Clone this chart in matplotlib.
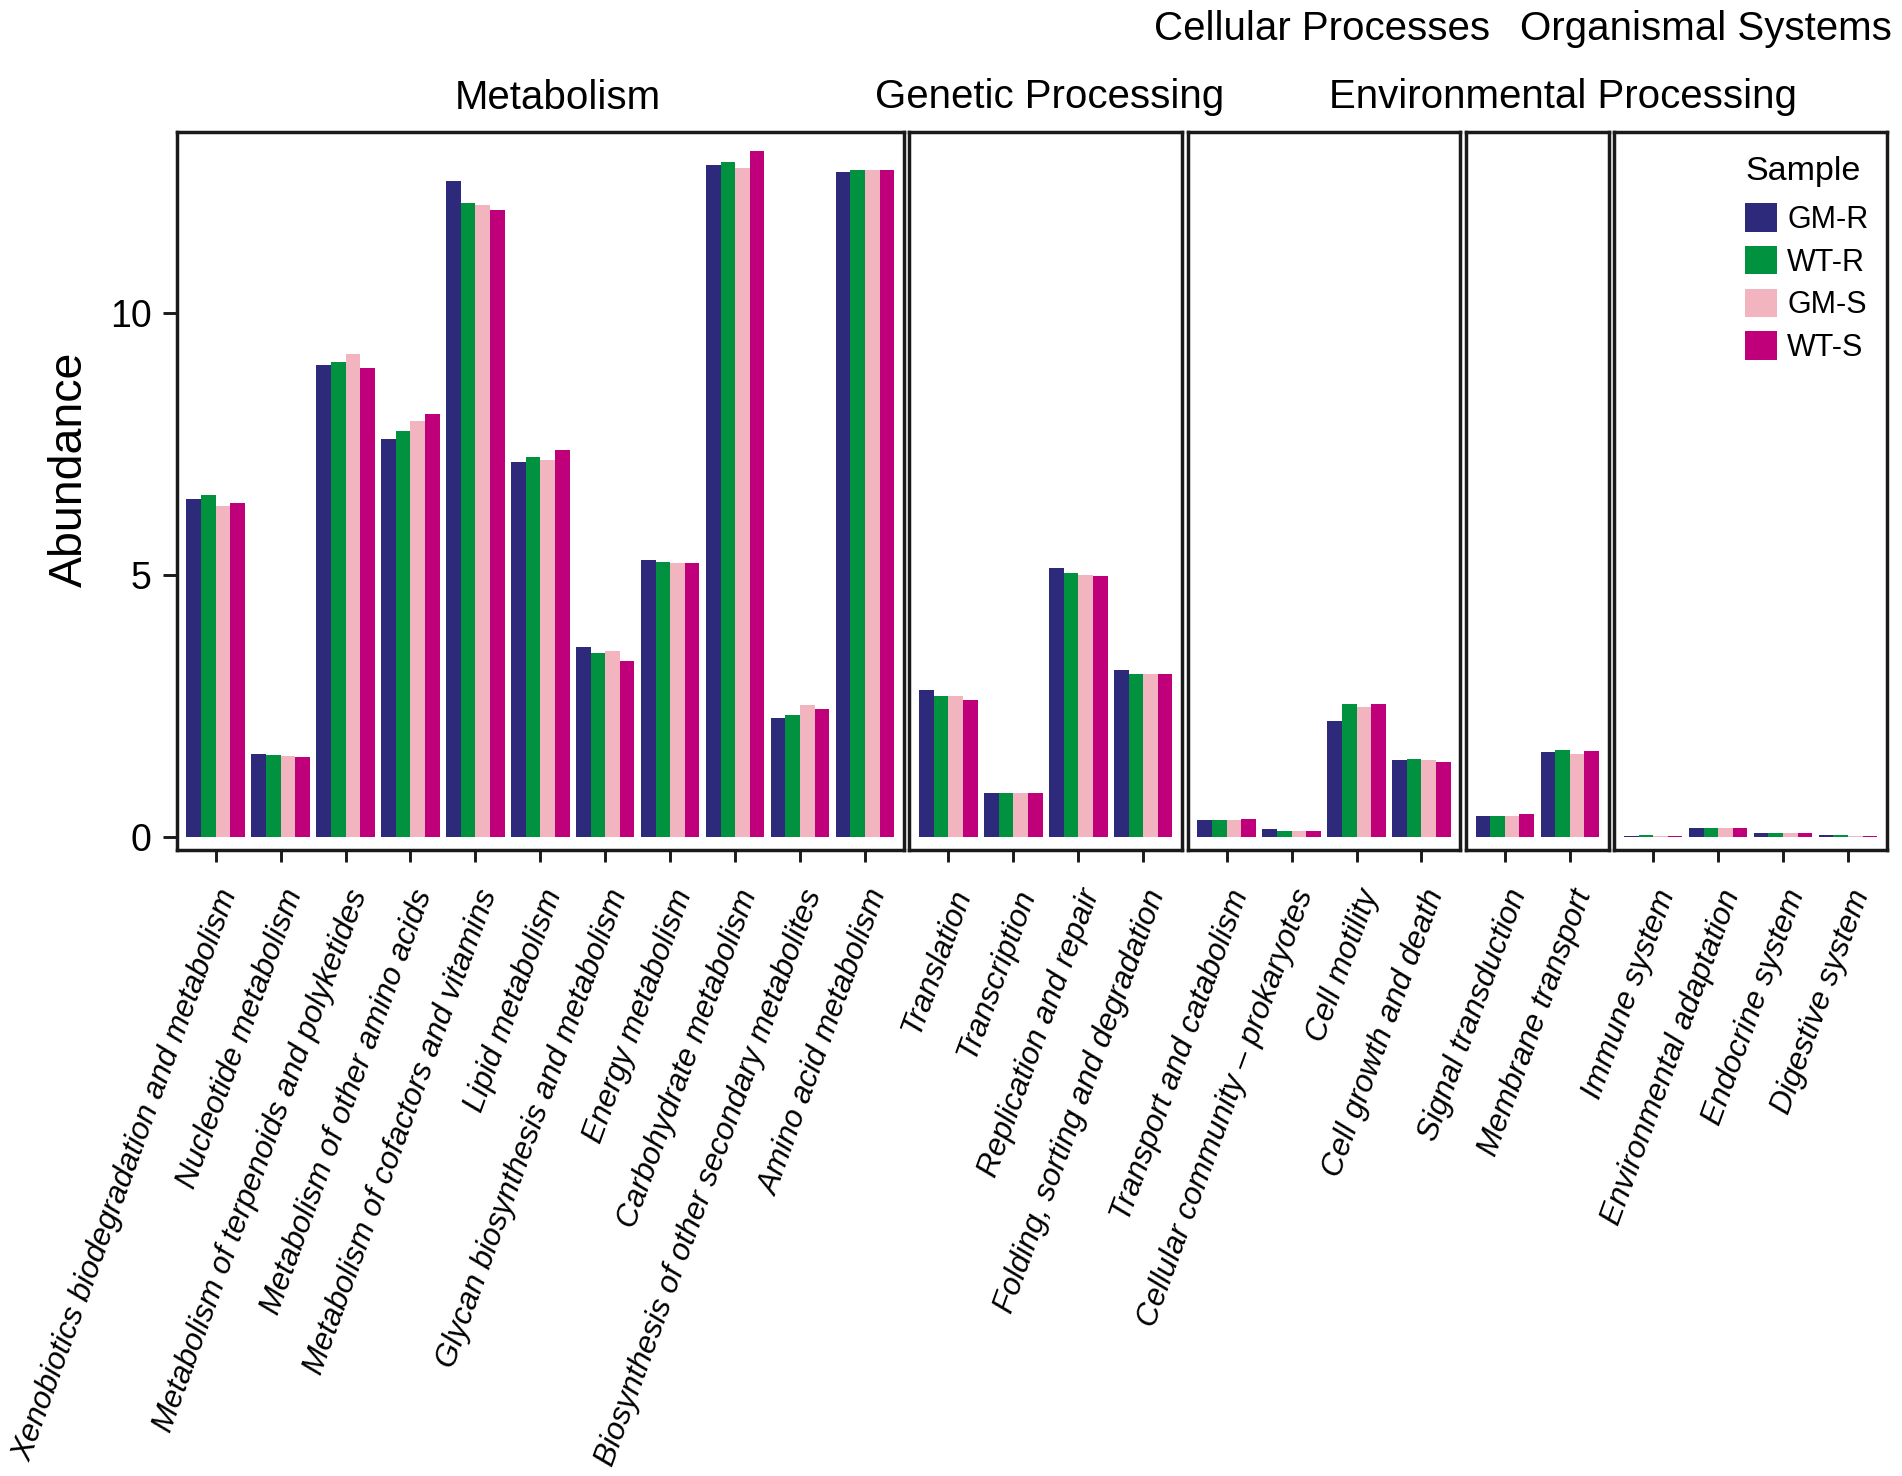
import matplotlib
matplotlib.use("Agg")
import matplotlib.pyplot as plt
from matplotlib.patches import Patch
import numpy as np

plt.rcParams["font.family"] = ["Liberation Sans", "DejaVu Sans"]

samples = ["GM-R", "WT-R", "GM-S", "WT-S"]
colors = ["#2e2a7b", "#00923f", "#f2b4be", "#c0007a"]

groups = ["Metabolism", "Genetic Processing", "Cellular Processes",
          "Environmental Processing", "Organismal Systems"]

metabolism_cats = [
    "Xenobiotics biodegradation and metabolism",
    "Nucleotide metabolism",
    "Metabolism of terpenoids and polyketides",
    "Metabolism of other amino acids",
    "Metabolism of cofactors and vitamins",
    "Lipid metabolism",
    "Glycan biosynthesis and metabolism",
    "Energy metabolism",
    "Carbohydrate metabolism",
    "Biosynthesis of other secondary metabolites",
    "Amino acid metabolism",
]
# columns: GM-R, WT-R, GM-S, WT-S
metabolism_vals = [
    [6.44, 6.52, 6.31, 6.37],
    [1.59, 1.56, 1.55, 1.53],
    [9.01, 9.07, 9.22, 8.94],
    [7.60, 7.75, 7.93, 8.07],
    [12.51, 12.10, 12.06, 11.97],
    [7.15, 7.24, 7.20, 7.38],
    [3.62, 3.50, 3.54, 3.35],
    [5.29, 5.24, 5.23, 5.23],
    [12.82, 12.88, 12.77, 13.08],
    [2.26, 2.32, 2.51, 2.45],
    [12.68, 12.73, 12.73, 12.72],
]

genetic_cats = ["Translation", "Transcription", "Replication and repair",
                "Folding, sorting and degradation"]
genetic_vals = [
    [2.81, 2.69, 2.69, 2.62],
    [0.84, 0.83, 0.83, 0.83],
    [5.13, 5.04, 4.99, 4.97],
    [3.18, 3.11, 3.11, 3.11],
]

cellular_cats = ["Transport and catabolism", "Cellular community \u2013 prokaryotes",
                 "Cell motility", "Cell growth and death"]
cellular_vals = [
    [0.33, 0.33, 0.33, 0.34],
    [0.15, 0.12, 0.12, 0.12],
    [2.22, 2.54, 2.48, 2.53],
    [1.47, 1.49, 1.47, 1.43],
]

environmental_cats = ["Signal transduction", "Membrane transport"]
environmental_vals = [
    [0.39, 0.40, 0.39, 0.43],
    [1.62, 1.65, 1.59, 1.64],
]

organismal_cats = ["Immune system", "Environmental adaptation",
                   "Endocrine system", "Digestive system"]
organismal_vals = [
    [0.02, 0.03, 0.01, 0.01],
    [0.17, 0.17, 0.17, 0.17],
    [0.07, 0.07, 0.07, 0.07],
    [0.03, 0.03, 0.02, 0.02],
]

panels = [
    (metabolism_cats, metabolism_vals),
    (genetic_cats, genetic_vals),
    (cellular_cats, cellular_vals),
    (environmental_cats, environmental_vals),
    (organismal_cats, organismal_vals),
]

# strip label positions (figure fraction): x centre, baseline y
strip_pos = [(0.2934, 0.926), (0.552, 0.927), (0.695, 0.973),
             (0.8216, 0.927), (0.897, 0.973)]

fig = plt.figure(figsize=(19.02, 14.76), dpi=100)

left, right, bottom, top = 0.0929, 0.9921, 0.4241, 0.9106
gap = 5.5 / 1902
widths = [len(c) + 0.2 for c, _ in panels]
unit = (right - left - gap * (len(panels) - 1)) / sum(widths)

bar_w = 0.225
offsets = (np.arange(4) - 1.5) * bar_w

axes = []
x0 = left
for i, (cats, vals) in enumerate(panels):
    w = widths[i] * unit
    ax = fig.add_axes([x0, bottom, w, top - bottom])
    x0 += w + gap
    axes.append(ax)

    vals = np.array(vals)
    x = np.arange(len(cats))
    for j in range(4):
        ax.bar(x + offsets[j], vals[:, j], width=bar_w, color=colors[j],
               linewidth=0, label=samples[j])

    ax.set_xlim(-0.6, len(cats) - 0.4)
    ax.set_ylim(-0.25, 13.45)
    for sp in ax.spines.values():
        sp.set_linewidth(2.5)
        sp.set_color("#1a1a1a")

    ax.set_xticks(x)
    ax.set_xticklabels(cats, rotation=70, ha="right", va="top",
                       rotation_mode="anchor", fontstyle="italic", fontsize=22.5)
    ax.tick_params(axis="x", length=8.5, width=2.1, color="#1a1a1a", pad=17)

    if i == 0:
        ax.set_yticks([0, 5, 10])
        ax.set_yticklabels(["0", "5", "10"], fontsize=27)
        ax.tick_params(axis="y", length=10, width=2.1, color="#1a1a1a", pad=8)
    else:
        ax.set_yticks([])

    sx, sy = strip_pos[i]
    fig.text(sx, sy, groups[i], ha="center", va="baseline", fontsize=29)

fig.text(0.0368, 0.682, "Abundance", rotation=90, ha="center", va="center",
         fontsize=33.5)

handles = [Patch(facecolor=c, edgecolor="none") for c in colors]
leg = axes[-1].legend(handles, samples, title="Sample", loc="upper left",
                      bbox_to_anchor=(0.9175, 0.8945),
                      bbox_transform=fig.transFigure, frameon=False,
                      fontsize=22, title_fontsize=24.5, borderpad=0,
                      borderaxespad=0, handlelength=1.05, handleheight=1.05,
                      handletextpad=0.33, labelspacing=0.36)
leg._legend_box.align = "left"
leg._legend_box.sep = 12

fig.savefig("out.png", dpi=100, facecolor="white")
